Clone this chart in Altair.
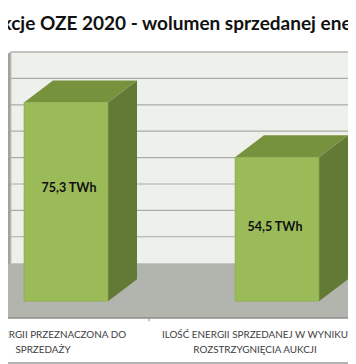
import altair as alt
import pandas as pd

TITLE = "Aukcje OZE 2020 - wolumen sprzedanej energii"
CATEGORIES = [["ILOŚĆ ENERGII PRZEZNACZONA DO", "SPRZEDAŻY"],
              ["ILOŚĆ ENERGII SPRZEDANEJ W WYNIKU", "ROZSTRZYGNIĘCIA AUKCJI"]]
VALUES = [75.3, 54.5]
VALUE_TEXT = ["75,3 TWh", "54,5 TWh"]
GRID = [0, 10, 20, 30, 40, 50, 60, 70, 80]

# Chart geometry in chart units (x in pixels of the picture, y in TWh)
X_MIN, X_MAX = 8, 348
Y_MIN, Y_MAX = -38.2, 96.67
WALL_X = 11
BAR_LEFT = [24, 235]
BAR_W = 84
DEPTH_X, DEPTH_Y = 29, 8.33
FRONT_Y = -14.4
FLOOR_FRONT = -20.8
LABEL_X = [43, 255]
TICK_X = 149
SLOPE = DEPTH_Y / 29


def wall_at(x, v):
    return v - (WALL_X - x) * SLOPE


x_scale = alt.Scale(domain=[X_MIN, X_MAX], range=[0, X_MAX - X_MIN], nice=False, zero=False)
y_scale = alt.Scale(domain=[Y_MIN, Y_MAX], range=[356, 0], nice=False, zero=False)
X = lambda f="x": alt.X(f"{f}:Q", scale=x_scale, axis=None)
Y = lambda f="y": alt.Y(f"{f}:Q", scale=y_scale, axis=None)
Y2 = alt.Y2("y2:Q")


def poly(rows, fill, stroke=None):
    kw = {"stroke": stroke, "strokeWidth": 0.6} if stroke else {}
    return alt.Chart(pd.DataFrame(rows, columns=["x", "y", "y2"])).mark_area(
        color=fill, interpolate="linear", orient="vertical", **kw
    ).encode(x=X(), y=Y(), y2=Y2)


layers = []
# back wall, left wall, floor
layers.append(poly([[WALL_X, 80, 0], [X_MAX, 80, 0]], "#eef0ec"))
layers.append(poly([[X_MIN, wall_at(X_MIN, 80), wall_at(X_MIN, 0)], [WALL_X, 80, 0]], "#a1a39f"))
layers.append(poly([[X_MIN, wall_at(X_MIN, 0), FLOOR_FRONT], [WALL_X, 0, FLOOR_FRONT], [X_MAX, 0, FLOOR_FRONT]], "#b2b4ae"))

# grid lines
grid_df = pd.DataFrame({"v": GRID[1:]})
layers.append(alt.Chart(grid_df).mark_rule(color="#a9aba7", strokeWidth=1.2).encode(
    y=alt.Y("v:Q", scale=y_scale, axis=None), x=alt.value(WALL_X - X_MIN), x2=alt.value(X_MAX - X_MIN)))
diag = pd.DataFrame([{"x": x, "y": wall_at(x, v), "g": v} for v in GRID[1:] for x in (X_MIN, WALL_X)])
layers.append(alt.Chart(diag).mark_line(color="#8f918d", strokeWidth=0.8).encode(x=X(), y=Y(), detail="g:N"))
layers.append(alt.Chart(pd.DataFrame({"x": [WALL_X], "y": [80], "y0": [0]})).mark_rule(color="#c4c6c2", strokeWidth=1).encode(
    x=X(), y=Y(), y2=alt.Y2("y0:Q")))
layers.append(alt.Chart(pd.DataFrame({"v": [80]})).mark_rule(color="#b4b6b2", strokeWidth=1.2).encode(
    y=alt.Y("v:Q", scale=y_scale, axis=None), x=alt.value(WALL_X - X_MIN), x2=alt.value(X_MAX - X_MIN)))

# floor front edge, tick, bottom rule
layers.append(alt.Chart(pd.DataFrame({"v": [FLOOR_FRONT]})).mark_rule(color="#8c8e8a", strokeWidth=1.5).encode(
    y=alt.Y("v:Q", scale=y_scale, axis=None)))
layers.append(alt.Chart(pd.DataFrame({"x": [TICK_X], "y": [FLOOR_FRONT], "y0": [FLOOR_FRONT - 1.2]})).mark_rule(color="#8c8e8a").encode(
    x=X(), y=Y(), y2=alt.Y2("y0:Q")))
layers.append(alt.Chart(pd.DataFrame({"v": [Y_MIN + 0.4]})).mark_rule(color="#9a9a9a", strokeWidth=1.5).encode(
    y=alt.Y("v:Q", scale=y_scale, axis=None)))

# bars
for left, val in zip(BAR_LEFT, VALUES):
    right = left + BAR_W
    top = FRONT_Y + val
    bx, by = DEPTH_X, DEPTH_Y
    layers.append(poly([[right, top, FRONT_Y], [right + bx, top + by, FRONT_Y + by]], "#637a36"))
    layers.append(poly([[left, top, top], [left + bx, top + by, top], [right, top + by, top], [right + bx, top + by, top + by]], "#76923c"))
    layers.append(poly([[left, top, FRONT_Y], [right, top, FRONT_Y]], "#9bbb59", stroke="#8dab50"))

# value labels
val_df = pd.DataFrame({"x": [69, 275], "y": [28.4, 13.7], "t": VALUE_TEXT})
layers.append(alt.Chart(val_df).mark_text(font="Lato", fontSize=12.5, fontWeight="bold", color="#111111").encode(
    x=X(), y=Y(), text="t:N"))

# category labels
rows = []
for cx, lines in zip(LABEL_X, CATEGORIES):
    for i, line in enumerate(lines):
        rows.append({"x": cx, "y": -27.1 - i * 5.7, "t": line})
layers.append(alt.Chart(pd.DataFrame(rows)).mark_text(font="Lato", fontSize=9.9, color="#404040").encode(
    x=X(), y=Y(), text="t:N"))

# title
layers.append(alt.Chart(pd.DataFrame({"x": [178], "y": [90.7], "t": [TITLE]})).mark_text(
    font="Lato", fontSize=19, fontWeight="bold", color="#111111").encode(x=X(), y=Y(), text="t:N"))

chart = alt.layer(*layers).properties(
    width=X_MAX - X_MIN, height=356, padding=0, background="#ffffff",
    autosize=alt.AutoSizeParams(type="none"),
).configure_view(stroke=None)

chart.save("out.html", embed_options={"renderer": "svg", "actions": False})
